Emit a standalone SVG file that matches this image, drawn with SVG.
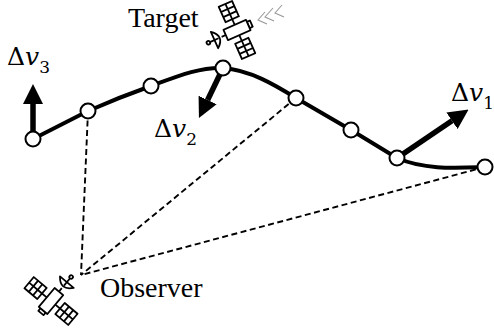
<svg xmlns="http://www.w3.org/2000/svg" xmlns:xlink="http://www.w3.org/1999/xlink" width="494" height="335" viewBox="0 0 494 335">
  <style>
    .sight { fill: none; stroke: #000; stroke-width: 1.9; stroke-dasharray: 6 3.5; }
    .orbit { fill: none; stroke: #000; stroke-width: 4; stroke-linejoin: round; }
    .node { fill: #fff; stroke: #000; stroke-width: 2; }
    .dv { fill: none; stroke: #000; stroke-width: 5.5; }
    .lbl { font-family: "Liberation Serif", "Times New Roman", serif; font-size: 28px; fill: #000; }
    .math { font-family: "DejaVu Serif", "Liberation Serif", serif; font-size: 25px; fill: #000; }
    .sub { font-size: 17px; }
    .sat { fill: #fff; stroke: #000; stroke-width: 1.6; stroke-linejoin: round; }
    .chev { fill: none; stroke: #999; stroke-width: 1.1; }
  </style>
  <defs>
    <marker id="head" viewBox="0 0 10 10" refX="0" refY="5" markerUnits="userSpaceOnUse" markerWidth="20" markerHeight="20" orient="auto">
      <path d="M0,0 L10,5 L0,10 Z" fill="#000"/>
    </marker>
    <!-- satellite icon: body along x, panels along y, dish on the -x side -->
    <g id="sat" class="sat">
      <line x1="0" y1="-5" x2="0" y2="-10.5"/>
      <line x1="0" y1="5" x2="0" y2="10.5"/>
      <rect x="-6.5" y="-25.5" width="13" height="15"/>
      <path d="M0,-25.5 V-10.5 M-6.5,-20.5 H6.5 M-6.5,-15.5 H6.5" fill="none"/>
      <rect x="-6.5" y="10.5" width="13" height="15"/>
      <path d="M0,10.5 V25.5 M-6.5,15.5 H6.5 M-6.5,20.5 H6.5" fill="none"/>
      <rect x="11" y="-3" width="3" height="6"/>
      <rect x="-11" y="-5" width="22" height="10"/>
      <line x1="-11" y1="0" x2="-15" y2="0"/>
      <path d="M-22,-8 Q-12,0 -22,8 Z"/>
      <line x1="-18" y1="0" x2="-26.5" y2="0"/>
      <circle cx="-28" cy="0" r="1.6"/>
    </g>
  </defs>

  <g id="connectors">
    <line class="sight" x1="88" y1="111" x2="81" y2="275"/>
    <line class="sight" x1="296" y1="98" x2="81" y2="275"/>
    <line class="sight" x1="485" y1="167" x2="81" y2="275"/>
    <path id="trajectory" class="orbit" d="M33,139 L88,111 Q120,97 151,86 C178,76 200,67 223,68 C250,70 275,85 296,98 L351,130 L397,158 C425,170 455,168 485,167"/>
    <line id="dv1-arrow" class="dv" x1="397" y1="158" x2="452" y2="120.8" marker-end="url(#head)"/>
    <line id="dv2-arrow" class="dv" x1="223" y1="68" x2="207.6" y2="100" marker-end="url(#head)"/>
    <line id="dv3-arrow" class="dv" x1="33" y1="139" x2="33" y2="104" marker-end="url(#head)"/>
  </g>

  <g id="n1"><circle class="node" cx="33" cy="139" r="7.5"/></g>
  <g id="n2"><circle class="node" cx="88" cy="111" r="7.5"/></g>
  <g id="n3"><circle class="node" cx="151" cy="86" r="7.5"/></g>
  <g id="n4"><circle class="node" cx="223" cy="68" r="7.5"/></g>
  <g id="n5"><circle class="node" cx="296" cy="98" r="7.5"/></g>
  <g id="n6"><circle class="node" cx="351" cy="130" r="7.5"/></g>
  <g id="n7"><circle class="node" cx="397" cy="158" r="7.5"/></g>
  <g id="n8"><circle class="node" cx="485" cy="167" r="7.5"/></g>

  <g id="label-dv1"><text class="math" x="451" y="101">Δ<tspan font-style="italic">v</tspan><tspan class="sub" dy="8">1</tspan></text></g>
  <g id="label-dv2"><text class="math" x="154" y="137">Δ<tspan font-style="italic">v</tspan><tspan class="sub" dy="8">2</tspan></text></g>
  <g id="label-dv3"><text class="math" x="7" y="65">Δ<tspan font-style="italic">v</tspan><tspan class="sub" dy="8">3</tspan></text></g>

  <g id="target">
    <use xlink:href="#sat" transform="translate(237,30) rotate(-24) scale(1.12)"/>
    <path class="chev" d="M265,12 L258,20 L267,24 M273,8 L265,17 L274,21 M282,5 L275,13 L284,17"/>
    <text class="lbl" x="128" y="27">Target</text>
  </g>

  <g id="observer">
    <use xlink:href="#sat" transform="translate(51,301) rotate(130) scale(1.12)"/>
    <text class="lbl" x="100" y="297">Observer</text>
  </g>
</svg>
